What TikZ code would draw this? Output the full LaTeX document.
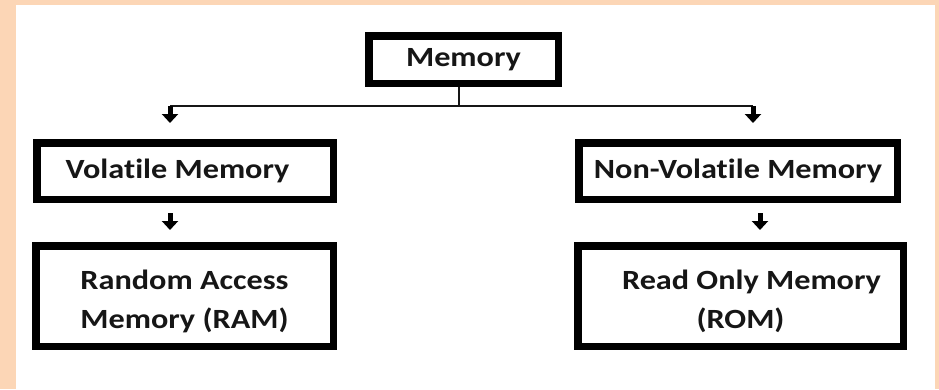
\documentclass[tikz,border=0pt]{standalone}
\usepackage{fontspec}
\setmainfont{Carlito}[FakeStretch=1.16, Ligatures=NoCommon]
\usetikzlibrary{arrows.meta,calc}
\definecolor{peach}{RGB}{252,214,182}
\definecolor{ink}{RGB}{22,22,22}
\tikzset{
  membox/.style={draw=black, line width=7.5pt, fill=white, inner sep=0pt,
    text=ink, align=center, font=\fontsize{27.8pt}{38.5pt}\selectfont\bfseries},
  wire/.style={draw=ink, line width=1.5pt},
  downarrow/.style={draw=black, line width=5pt,
    -{Triangle[width=16pt,length=9pt]}}
}
\begin{document}
\begin{tikzpicture}[x=1pt,y=-1pt]
  % page background and white sheet
  \fill[peach] (0,0) rectangle (939,389);
  \fill[white] (16,5) rectangle (935,389);
  \useasboundingbox (0,0) rectangle (939,389);

  % boxes
  \node[membox, minimum width=189.5pt, minimum height=47.5pt] (mem) at (463.5,59.5) {Memory};
  \node[membox, minimum width=296.5pt, minimum height=56.5pt] (vol) at (185,171) {Volatile Memory\hspace*{15pt}};
  \node[membox, minimum width=318.5pt, minimum height=56.5pt] (nv) at (738,171) {Non-Volatile Memory};
  \node[membox, minimum width=297.5pt, minimum height=100.5pt] (ram) at (184.5,296) {\rule{0pt}{30pt}Random Access\\Memory (RAM)};
  \node[membox, minimum width=325.5pt, minimum height=100.5pt] (rom) at (740.5,296) {\rule{0pt}{30pt}\hspace*{22pt}Read Only Memory\\(ROM)};

  % branching connector from the root
  \coordinate (bus) at ($(mem.south)+(-4.5,19)$);
  \coordinate (lc) at ([xshift=-15pt]vol.north |- bus);
  \coordinate (rc) at ([xshift=15pt]nv.north |- bus);
  \draw[wire] ([xshift=-4.5pt]mem.south) -- (bus);
  \draw[wire] (lc) -- (rc);
  \draw[downarrow, shorten >=16pt] (lc) -- ([xshift=-15pt]vol.north);
  \draw[downarrow, shorten >=16pt] (rc) -- ([xshift=15pt]nv.north);

  % arrows between levels
  \draw[downarrow, shorten <=10pt, shorten >=12pt] ([xshift=-15pt]vol.south) -- ([xshift=-15pt]vol.south |- ram.north);
  \draw[downarrow, shorten <=10pt, shorten >=12pt] ([xshift=22pt]nv.south) -- ([xshift=22pt]nv.south |- rom.north);
\end{tikzpicture}
\end{document}
